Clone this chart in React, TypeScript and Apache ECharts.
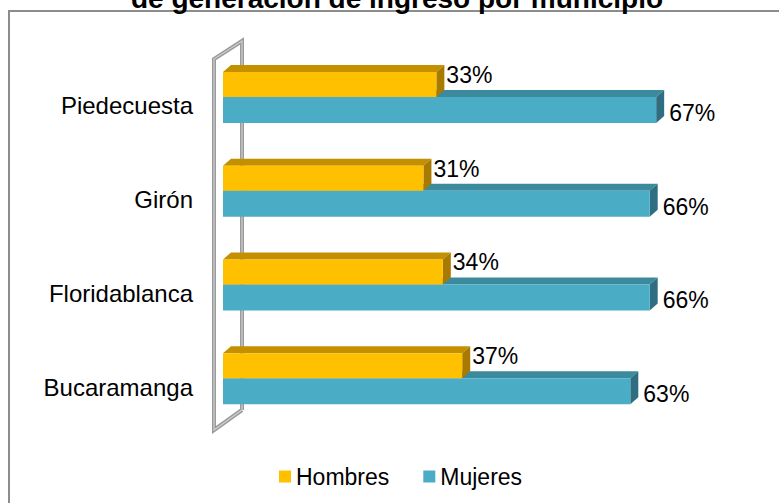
import React, { useEffect, useRef } from "react";
import * as echarts from "echarts";

const categories = ["Bucaramanga", "Floridablanca", "Girón", "Piedecuesta"];
const hombres = [37, 34, 31, 33];
const mujeres = [63, 66, 66, 67];
const seriesNames = ["Hombres", "Mujeres"];
const titleText = "de generación de ingreso por municipio";

const FONT = "'Liberation Sans', Arial, sans-serif";
const GRID_LEFT = 223;
const GRID_TOP = 59;
const GRID_HEIGHT = 375;
const X_MAX = 86;
const DX = 8;
const DY = -7;

type BarStyle = {
  front: string;
  top: string;
  side: string;
  yTop: number;
  yBottom: number;
  labelDx: number;
  labelDy: number;
};

const yellowStyle: BarStyle = {
  front: "#FFC000",
  top: "#C49000",
  side: "#A87B00",
  yTop: -34,
  yBottom: -9,
  labelDx: 10,
  labelDy: -31,
};
const blueStyle: BarStyle = {
  front: "#4BACC6",
  top: "#3C8A9E",
  side: "#2F6E80",
  yTop: -9,
  yBottom: 17,
  labelDx: 13,
  labelDy: 7,
};

function makeRenderItem(st: BarStyle) {
  return (params: any, api: any) => {
    const cat = api.value(0);
    const val = api.value(1);
    const p0 = api.coord([0, cat]);
    const p1 = api.coord([val, cat]);
    const c = p0[1];
    const x0 = p0[0];
    const x1 = p1[0];
    const yT = c + st.yTop;
    const yB = c + st.yBottom;
    return {
      type: "group",
      children: [
        {
          type: "polygon",
          shape: {
            points: [
              [x0, yT],
              [x0 + DX, yT + DY],
              [x1 + DX, yT + DY],
              [x1, yT],
            ],
          },
          style: { fill: st.top },
        },
        {
          type: "polygon",
          shape: {
            points: [
              [x1, yT],
              [x1 + DX, yT + DY],
              [x1 + DX, yB + DY],
              [x1, yB],
            ],
          },
          style: { fill: st.side },
        },
        {
          type: "rect",
          shape: { x: x0, y: yT, width: x1 - x0, height: yB - yT },
          style: { fill: st.front },
        },
        {
          type: "text",
          style: {
            text: val + "%",
            x: x1 + st.labelDx,
            y: c + st.labelDy,
            align: "left",
            verticalAlign: "middle",
            fontSize: 23,
            fontFamily: FONT,
            fill: "#000",
          },
        },
      ],
    };
  };
}

export default function App() {
  const ref = useRef<HTMLDivElement>(null);
  useEffect(() => {
    if (!ref.current) return;
    const chart = echarts.init(ref.current, undefined, { renderer: "svg" });
    const fx = GRID_LEFT - 9;
    const bx = GRID_LEFT + 19;
    const wallPts = [
      [bx, GRID_TOP + GRID_HEIGHT - 24],
      [fx, GRID_TOP + GRID_HEIGHT - 4],
      [fx, GRID_TOP],
      [bx, GRID_TOP - 18],
      [bx, GRID_TOP + GRID_HEIGHT - 24],
    ];
    chart.setOption({
      animation: false,
      backgroundColor: "#fff",
      legend: {
        data: seriesNames,
        top: 460,
        left: 274,
        icon: "rect",
        itemWidth: 12,
        itemHeight: 12,
        itemGap: 34,
        textStyle: { fontSize: 23, color: "#000", fontFamily: FONT },
      },
      grid: { left: GRID_LEFT, top: GRID_TOP, height: GRID_HEIGHT, right: 0 },
      xAxis: {
        type: "value",
        min: 0,
        max: X_MAX,
        show: false,
        splitLine: { show: false },
      },
      yAxis: {
        type: "category",
        data: categories,
        axisLine: { show: false },
        axisTick: { show: false },
        axisLabel: { fontSize: 24, color: "#000", fontFamily: FONT, margin: 30 },
      },
      graphic: [
        {
          type: "text",
          z: 10,
          style: {
            text: titleText,
            x: 397,
            y: 12,
            align: "center",
            verticalAlign: "bottom",
            fontSize: 28,
            fontWeight: "bold",
            fontFamily: FONT,
            fill: "#000",
          },
        },
        {
          type: "rect",
          z: -10,
          shape: { x: 9, y: 11, width: 900, height: 600 },
          style: { fill: "none", stroke: "#8c8c8c", lineWidth: 2 },
        },
        {
          type: "polyline",
          z: -5,
          shape: { points: wallPts },
          style: { fill: "none", stroke: "#9a9a9a", lineWidth: 4 },
        },
        {
          type: "polyline",
          z: -4,
          shape: { points: wallPts },
          style: { fill: "none", stroke: "#cfcfcf", lineWidth: 1.2 },
        },
      ],
      series: [
        {
          name: "Mujeres",
          type: "custom",
          z: 2,
          itemStyle: { color: blueStyle.front },
          encode: { x: 1, y: 0 },
          data: mujeres.map((v, i) => [i, v]),
          renderItem: makeRenderItem(blueStyle),
        },
        {
          name: "Hombres",
          type: "custom",
          z: 3,
          itemStyle: { color: yellowStyle.front },
          encode: { x: 1, y: 0 },
          data: hombres.map((v, i) => [i, v]),
          renderItem: makeRenderItem(yellowStyle),
        },
      ],
    });
    return () => chart.dispose();
  }, []);
  return (
    <div
      ref={ref}
      style={{ position: "absolute", left: 0, top: 0, width: 779, height: 503, background: "#fff" }}
    />
  );
}
